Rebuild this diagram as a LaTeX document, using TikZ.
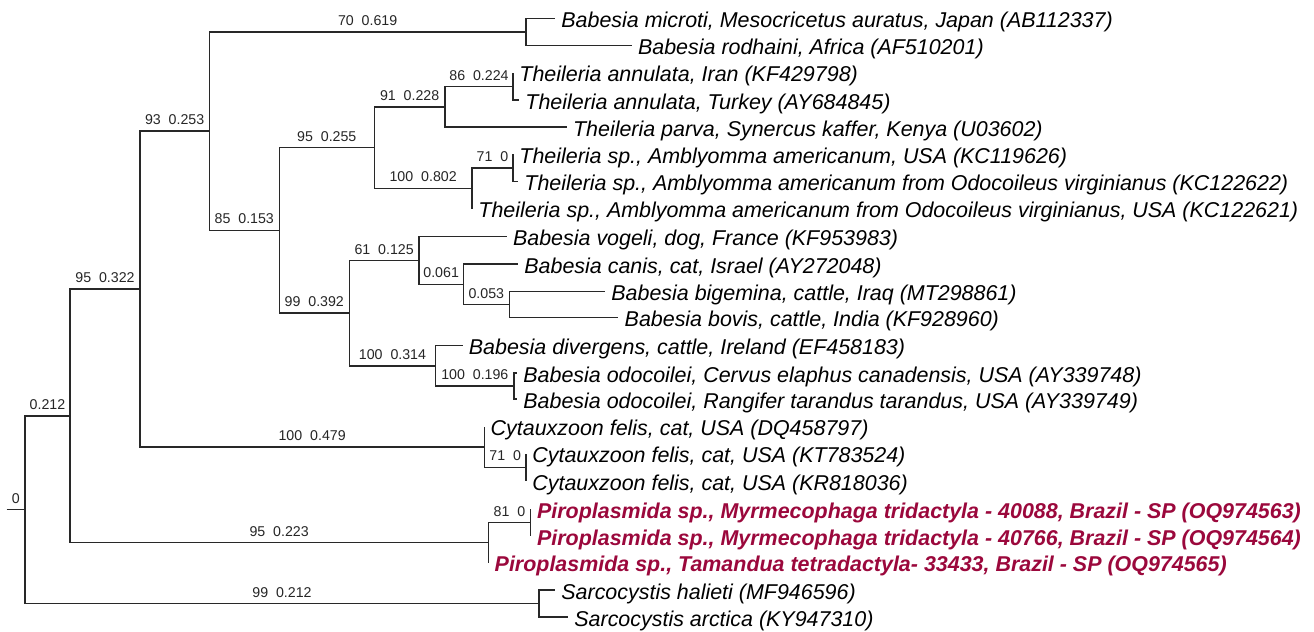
\documentclass[tikz,border=0pt]{standalone}
\usepackage{fontspec}
\setmainfont{Liberation Sans}
\definecolor{piro}{RGB}{155,8,60}
\definecolor{ln}{RGB}{40,40,40}
\begin{document}
\begin{tikzpicture}[x=0.5pt,y=-0.5pt,
  br/.style={draw=ln,line width=0.72pt},
  bl/.style={font=\fontsize{7.1}{8}\selectfont, anchor=base, yshift=3.2pt, inner sep=0pt, pos=0.75, text=black!85},
  tx/.style={font=\fontsize{10.72}{12}\selectfont\itshape, anchor=base west, inner sep=0pt, xshift=3pt, yshift=-4.5pt},
  pr/.style={tx, font=\fontsize{10.72}{12}\selectfont\bfseries\itshape, text=piro}]
\useasboundingbox (0,0) rectangle (1314,632);
% internal nodes
\coordinate (stub) at (6.7,509.6);
\coordinate (root) at (25,509.6);
\coordinate (n212a) at (70,415.8);
\coordinate (n322) at (140,289);
\coordinate (n253) at (209.3,131.2);
\coordinate (nMR) at (526,32);
\coordinate (n153) at (279.3,230.3);
\coordinate (n95a) at (374.3,147.5);
\coordinate (n91) at (445,106.8);
\coordinate (nAn) at (513,86.4);
\coordinate (n100a) at (472,188.3);
\coordinate (nTs) at (513,167.9);
\coordinate (n392) at (349.3,313.1);
\coordinate (n61) at (419,260.4);
\coordinate (n061) at (463.3,284.3);
\coordinate (n053) at (509.3,304.5);
\coordinate (n314) at (435.7,365.8);
\coordinate (nOd) at (514,386);
\coordinate (nCy) at (484.3,446.9);
\coordinate (nCyKT) at (526,467.3);
\coordinate (nPi) at (488.3,542.5);
\coordinate (nPi81) at (530.7,522.5);
\coordinate (nSa) at (539,603.5);
% tips
\coordinate (p1) at (555,18.3);
\coordinate (p2) at (631.7,45.6);
\coordinate (p3) at (513,72.8);
\coordinate (p4) at (519,100);
\coordinate (p5) at (566.7,127.1);
\coordinate (p6) at (513,154.3);
\coordinate (p7) at (518,181.5);
\coordinate (p8) at (472,208.7);
\coordinate (p9) at (506.7,236.5);
\coordinate (p10) at (518,264);
\coordinate (p11) at (605,291.5);
\coordinate (p12) at (618.3,317.5);
\coordinate (p13) at (462.5,345.5);
\coordinate (p14) at (517,373);
\coordinate (p15) at (517,399);
\coordinate (p16) at (484.3,426.5);
\coordinate (p17) at (526,453.5);
\coordinate (p18) at (526,481);
\coordinate (p19) at (530.7,509);
\coordinate (p20) at (530.7,536);
\coordinate (p21) at (488.3,562.5);
\coordinate (p22) at (555,590);
\coordinate (p23) at (568,617);
% internal branches with labels
\draw[br] (stub) -- (root) node[bl,pos=0.5] {0};
\draw[br] (root) |- (n212a) node[bl] {0.212};
\draw[br] (root) |- (nSa) node[bl] {99~~0.212};
\draw[br] (n212a) |- (n322) node[bl] {95~~0.322};
\draw[br] (n212a) |- (nPi) node[bl] {95~~0.223};
\draw[br] (n322) |- (n253) node[bl] {93~~0.253};
\draw[br] (n322) |- (nCy) node[bl] {100~~0.479};
\draw[br] (n253) |- (nMR) node[bl] {70~~0.619};
\draw[br] (n253) |- (n153) node[bl] {85~~0.153};
\draw[br] (n153) |- (n95a) node[bl] {95~~0.255};
\draw[br] (n153) |- (n392) node[bl] {99~~0.392};
\draw[br] (n95a) |- (n91) node[bl] {91~~0.228};
\draw[br] (n95a) |- (n100a) node[bl] {100~~0.802};
\draw[br] (n91) |- (nAn) node[bl] {86~~0.224};
\draw[br] (n100a) |- (nTs) node[bl] {71~~0};
\draw[br] (n392) |- (n61) node[bl] {61~~0.125};
\draw[br] (n392) |- (n314) node[bl] {100~~0.314};
\draw[br] (n61) |- (n061) node[bl] {0.061};
\draw[br] (n061) |- (n053) node[bl] {0.053};
\draw[br] (n314) |- (nOd) node[bl] {100~~0.196};
\draw[br] (nCy) |- (nCyKT) node[bl] {71~~0};
\draw[br] (nPi) |- (nPi81) node[bl] {81~~0};
% terminal branches
\draw[br] (nMR) |- (p1);
\draw[br] (nMR) |- (p2);
\draw[br] (nAn) |- (p3);
\draw[br] (nAn) |- (p4);
\draw[br] (n91) |- (p5);
\draw[br] (nTs) |- (p6);
\draw[br] (nTs) |- (p7);
\draw[br] (n100a) |- (p8);
\draw[br] (n61) |- (p9);
\draw[br] (n061) |- (p10);
\draw[br] (n053) |- (p11);
\draw[br] (n053) |- (p12);
\draw[br] (n314) |- (p13);
\draw[br] (nOd) |- (p14);
\draw[br] (nOd) |- (p15);
\draw[br] (nCy) |- (p16);
\draw[br] (nCyKT) |- (p17);
\draw[br] (nCyKT) |- (p18);
\draw[br] (nPi81) |- (p19);
\draw[br] (nPi81) |- (p20);
\draw[br] (nPi) |- (p21);
\draw[br] (nSa) |- (p22);
\draw[br] (nSa) |- (p23);
% taxon labels
\node[tx] (t1) at (p1) {Babesia microti, Mesocricetus auratus, Japan (AB112337)};
\node[tx] (t2) at (p2) {Babesia rodhaini, Africa (AF510201)};
\node[tx] (t3) at (p3) {Theileria annulata, Iran (KF429798)};
\node[tx] (t4) at (p4) {Theileria annulata, Turkey (AY684845)};
\node[tx] (t5) at (p5) {Theileria parva, Synercus kaffer, Kenya (U03602)};
\node[tx] (t6) at (p6) {Theileria sp., Amblyomma americanum, USA (KC119626)};
\node[tx] (t7) at (p7) {Theileria sp., Amblyomma americanum from Odocoileus virginianus (KC122622)};
\node[tx] (t8) at (p8) {Theileria sp., Amblyomma americanum from Odocoileus virginianus, USA (KC122621)};
\node[tx] (t9) at (p9) {Babesia vogeli, dog, France (KF953983)};
\node[tx] (t10) at (p10) {Babesia canis, cat, Israel (AY272048)};
\node[tx] (t11) at (p11) {Babesia bigemina, cattle, Iraq (MT298861)};
\node[tx] (t12) at (p12) {Babesia bovis, cattle, India (KF928960)};
\node[tx] (t13) at (p13) {Babesia divergens, cattle, Ireland (EF458183)};
\node[tx] (t14) at (p14) {Babesia odocoilei, Cervus elaphus canadensis, USA (AY339748)};
\node[tx] (t15) at (p15) {Babesia odocoilei, Rangifer tarandus tarandus, USA (AY339749)};
\node[tx] (t16) at (p16) {Cytauxzoon felis, cat, USA (DQ458797)};
\node[tx] (t17) at (p17) {Cytauxzoon felis, cat, USA (KT783524)};
\node[tx] (t18) at (p18) {Cytauxzoon felis, cat, USA (KR818036)};
\node[pr] (t19) at (p19) {Piroplasmida sp., Myrmecophaga tridactyla - 40088, Brazil - SP (OQ974563)};
\node[pr] (t20) at (p20) {Piroplasmida sp., Myrmecophaga tridactyla - 40766, Brazil - SP (OQ974564)};
\node[pr] (t21) at (p21) {Piroplasmida sp., Tamandua tetradactyla- 33433, Brazil - SP (OQ974565)};
\node[tx] (t22) at (p22) {Sarcocystis halieti (MF946596)};
\node[tx] (t23) at (p23) {Sarcocystis arctica (KY947310)};
\end{tikzpicture}
\end{document}
